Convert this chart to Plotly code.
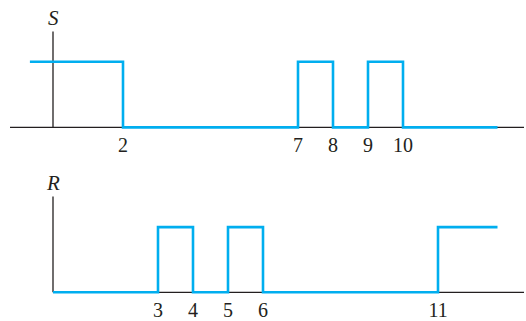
import plotly.graph_objects as go

# ---- data ----
s_times = [-0.66, 2, 7, 8, 9, 10, 12.7]
s_values = [1, 0, 1, 0, 1, 0, 0]
r_times = [0, 3, 4, 5, 6, 11, 12.7]
r_values = [0, 1, 0, 1, 0, 1, 1]
s_ticks = [2, 7, 8, 9, 10]
r_ticks = [3, 4, 5, 6, 11]

W, H = 526, 321
BLUE = "#00aeef"
INK = "#231f20"
FONT = "Liberation Serif, Times New Roman, serif"

# pixel geometry (layout only)
x0_px, px_per_unit = 53, 35.0
top_base, top_high, top_bottom_px = 129, 62.5, 133
bot_base, bot_high, bot_top_px, bot_bottom_px = 296, 230, 160, 300

xr = [-x0_px / px_per_unit, (W - x0_px) / px_per_unit]

tu = top_base - top_high
top_range = [(top_base - top_bottom_px) / tu, top_base / tu]
top_domain = [1 - top_bottom_px / H, 1]
bu = bot_base - bot_high
bot_range = [(bot_base - bot_bottom_px) / bu, (bot_base - bot_top_px) / bu]
bot_domain = [1 - bot_bottom_px / H, 1 - bot_top_px / H]

def t_of(px):
    return (px - x0_px) / px_per_unit

fig = go.Figure()

# axes (black)
fig.add_trace(go.Scatter(x=[t_of(10), t_of(524)], y=[0, 0], mode="lines",
                         line=dict(color=INK, width=1.3), xaxis="x", yaxis="y", hoverinfo="skip"))
fig.add_trace(go.Scatter(x=[0, 0], y=[0, (top_base - 32) / tu], mode="lines",
                         line=dict(color=INK, width=1.3), xaxis="x", yaxis="y", hoverinfo="skip"))
fig.add_trace(go.Scatter(x=[0, t_of(524)], y=[0, 0], mode="lines",
                         line=dict(color=INK, width=1.3), xaxis="x2", yaxis="y2", hoverinfo="skip"))
fig.add_trace(go.Scatter(x=[0, 0], y=[0, (bot_base - 199) / bu], mode="lines",
                         line=dict(color=INK, width=1.3), xaxis="x2", yaxis="y2", hoverinfo="skip"))

# signals
fig.add_trace(go.Scatter(x=s_times, y=s_values, mode="lines", line_shape="hv",
                         line=dict(color=BLUE, width=2.6), xaxis="x", yaxis="y", name="S"))
fig.add_trace(go.Scatter(x=r_times, y=r_values, mode="lines", line_shape="hv",
                         line=dict(color=BLUE, width=2.6), xaxis="x2", yaxis="y2", name="R"))

tickfont = dict(family=FONT, size=20, color=INK)
fig.update_layout(
    width=W, height=H, margin=dict(l=0, r=0, t=0, b=0),
    paper_bgcolor="white", plot_bgcolor="white", showlegend=False,
    xaxis=dict(domain=[0, 1], range=xr, anchor="y", tickmode="array",
               tickvals=s_ticks, ticktext=[str(v) for v in s_ticks],
               showgrid=False, zeroline=False, showline=False, ticks="",
               tickfont=tickfont, fixedrange=True),
    yaxis=dict(domain=top_domain, range=top_range, anchor="x", visible=False),
    xaxis2=dict(domain=[0, 1], range=xr, anchor="y2", tickmode="array",
                tickvals=r_ticks, ticktext=[str(v) for v in r_ticks],
                showgrid=False, zeroline=False, showline=False, ticks="",
                tickfont=tickfont, fixedrange=True),
    yaxis2=dict(domain=bot_domain, range=bot_range, anchor="x2", visible=False),
    annotations=[
        dict(text="<i>S</i>", x=0, y=(top_base - 18) / tu, xref="x", yref="y",
             showarrow=False, font=dict(family=FONT, size=21, color=INK),
             xanchor="center", yanchor="middle"),
        dict(text="<i>R</i>", x=0, y=(bot_base - 185) / bu, xref="x2", yref="y2",
             showarrow=False, font=dict(family=FONT, size=21, color=INK),
             xanchor="center", yanchor="middle"),
    ],
)

fig.write_html("out.html", config={"displayModeBar": False},
               post_script="document.body.style.margin='0';document.body.style.overflow='hidden';")
